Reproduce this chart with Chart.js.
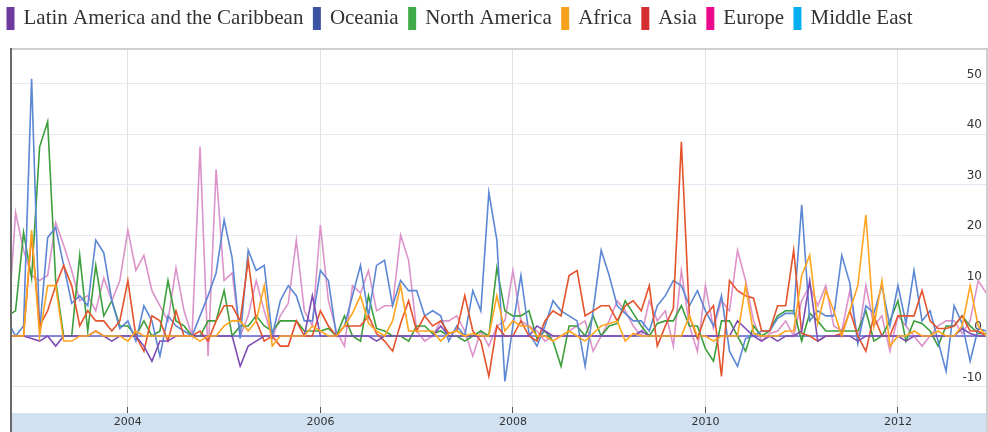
<!DOCTYPE html>
<html>
<head>
<meta charset="utf-8">
<script src="https://cdn.jsdelivr.net/npm/chart.js@4.4.1/dist/chart.umd.min.js"></script>
<style>
  html, body { margin: 0; padding: 0; background: #fff; }
  #wrap { width: 988px; height: 432px; }
</style>
</head>
<body>
<div id="wrap"><canvas id="myChart"></canvas></div>
<script>
// monthly values, Oct 2002 .. Dec 2012 (one row per year)
const regions = ["Latin America and the Caribbean", "Oceania", "North America", "Africa", "Asia", "Europe", "Middle East"];

const latinAmerica = [
  0, 0, 0,
  -0.5, -1, 0, -2, 0, 0, 0, 0, 1, 0, -1, 0,
  0, 0, -2, -5, -1, -1, 0, 0, 0, 0, 0, 0,
  0, 0, -6, -2, -1, 0, 0, 0, 0, 0, 0, 8,
  0, 0, 0, 0, 0, 0, 0, -1, 0, 0, 0, 0,
  0, 0, 0, 2, 0, 0, 0, 0, 0, 0, 0, 0,
  0, 0, 0, 2, 1, 0, 0, 0, 0, 0, 0, 0,
  0, 0, 0, 0, 1, 0, 0, 0, 0, 0, 0, 0,
  0, 0, 0, 0, 3, 1.5, 0, -1, 0, -1, 0, 0,
  1, 11, -1, 0, 0, 0, 0, -1, 0, 0, 0, 0,
  0, -1, 0, 0, 0, 0, 0, 0, 1.5, 0.5, 0, 0
];
const oceania = [
  3, 0, 2,
  51, 1, 19.5, 21.5, 14, 6.5, 8, 6, 19, 16.5, 7, 1.5,
  3, -1, 6, 3, -4, 4, 2, 1, 0, 4, 8, 12.5,
  23, 15.5, -0.5, 17, 13, 14, 0, 7, 10, 8, 3, 3,
  13, 11, 0, 2, 8, 14, 4, 14, 15, 6, 11, 9,
  9, 4, 5, 4, -1, 2, 0, 9, 5, 28.5, 19, -9,
  2, 12, 0.5, -2, 2, 7, 5, 4, 3, -6, 5, 17,
  12, 6, 4.5, 3, 3, 1, 6, 8, 11, 10, 6, 9,
  5, 2, 8, -3, -6, -0.5, 0, 1, 1, 3.5, 4.5, 4.5,
  26, 3, 5, 4, 4, 16, 10.5, -1.5, 6, 4.5, 10, 2,
  10, 2.5, 13, 3, 5, -1, -7, 6, 2.5, -5, 1.5, 1
];
const northAmerica = [
  4, 5, 20.5,
  11.5, 37.5, 42.5, 11, 0, 0, 16, 1, 14, 4, 7, 2,
  2, 0, 3, 0, 1, 11, 3, 2, 0, 0, 3, 3,
  9, 0, 2, 2, 4, 2, 1, 3, 3, 3, 1, 1,
  1, 1.5, 0, 4, 0, -1, 8, 1.5, 1, 0, 0, -1,
  2, 2, 0.5, 1, 0, 0, -1, 0, 1, 0, 13.5, 5,
  4, 4, 5, -0.5, 1, -1, -6, 2, 2, 0, 4, 0,
  2, 2.5, 7, 4.5, 2, 0, 2.5, 3, 3, 6, 2, 2,
  -2.5, -5, 3, 3, 0, -3, 2, 0, 1, 4, 5, 5,
  -1, 4.5, 3, 1, 1, 1, 1, 1, 5, -1, 0, 3,
  7, -1, 3, 2.5, 1, -2, 2, 2, 4, 2, 0.5, 0.5
];
const africa = [
  0, 0, 0,
  21, 0, 10, 10, -1, -1, 0, 0, 1, 0, 0, 0,
  -1, 1, 0, 0, 0, 0, 0, 0, 0, -1, 0, 0,
  2, 3, 3, 1, 3, 10, -2, 0, 0, 0, 0, 2,
  1, 0, 0, 2, 4.5, 8, 2.5, 1, 0, 3, 10, 1,
  1, 1, 1, -1, 0.5, 1, 0, 0.5, 0, 0, 8, 1,
  3, 2, 2, 0, 0, -1, 0, 1, 0, -1, 0.5, 2,
  2.5, 3, -1, 0.5, 0, 0, 0, 0, 0, 0, 4, 0,
  0, -1, 0, 0, 0, 10, 0.5, 0, 0, 0, 1, 1,
  12, 16, 2.5, 9, 5, 0, 5, 10, 24, 2, 11, -2,
  0, 0, 1, 0, 0, 1, 0, 0, 2, 10, 2, 0
];
const asia = [
  0, 0, 0,
  20, 2, 5, 10, 14, 10, 2, 5, 3, 3, 1, 3,
  11, 0, -3, 4, 3, -1, 5, 0, 0, 1, -1, 3,
  6, 6, 3, 15, 3, -1, 0, -2, -2, 3, 0, 0,
  5, 2, 0, 2, 2, 2, 4, 0.5, -1, -3, 2.5, 7,
  1, 4, 2, 3, 0.5, 1, 8, 1, -1, -8, 2, 0,
  0, 3, 0, -1, 3, 5, 4, 12, 13, 4, 5, 6,
  6, 3, 6, 7, 5, 10, -2, 2, 5.5, 38.5, 4, -0.5,
  4, 6, -8, 11, 9, 8, 7.5, 1, 1, 6, 6, 17,
  0.5, 0, -1, 0, 0, 0.5, 5, 0, -3, 4, 0, 0,
  4, 4, 4, 9, 3, 1.5, 1.5, 2, 4, 1, 1, 0
];
const europe = [
  0, 24.5, 17,
  12, 11, 12, 22.5, 18, 13, 7, 8, 5, 11.5, 7, 11,
  21, 13, 16, 9, 6, 3, 13.5, 5, 0, 37.5, -4, 33,
  11, 12.5, 0, 4, 11, 5, -0.5, 4, 6.5, 19, 5, 2,
  22, 7, 1, -2, 10, 8.5, 13, 5, 6, 6, 20, 15,
  1, -1, 0, 3, 3, 4, 1, -4, 1, -2, 2, 3,
  13, 3, 2, 1, -1, 0, 0, 1, 2, 3, -3, 0,
  3, 7, 5, 2, 0, 7, 3, 5, -2, 13, 2, -3,
  10, 1.5, 7, 5, 17, 11, 3, -1, 0.5, 1, 3, 0,
  7, 10, 6, 10, 2, 1, 9, -1, 10, 2, 4, -3,
  4, 2, 0, -2, 0, 2, 3, 3, 0.5, 3, 11, 8.5
];
const middleEast = [
  0, 0, 0,
  0, 0, 0, 0, 0, 0, 0, 0, 0, 0, 0, 0,
  0, 0, 0, 0, 0, 0, 0, 0, 0, 0, 0, 0,
  0, 0, 0, 0, 0, 0, 0, 0, 0, 0, 0, 0,
  0, 0, 0, 0, 0, 0, 0, 0, 0, 0, 0, 0,
  0, 0, 0, 0, 0, 0, 0, 0, 0, 0, 0, 0,
  0, 0, 0, 0, 0, 0, 0, 0, 0, 0, 0, 0,
  0, 0, 0, 0, 0, 0, 0, 0, 0, 0, 0, 0,
  0, 0, 0, 0, 0, 0, 0, 0, 0, 0, 0, 0,
  0, 0, 0, 0, 0, 0, 0, 0, 0, 0, 0, 0,
  0, 0, 0, 0, 0, 0, 0, 0, 0, 0, 0, 0
];

const xTicks = [2004, 2006, 2008, 2010, 2012];
const yTicks = [-10, 0, 10, 20, 30, 40, 50];

const series = [latinAmerica, oceania, northAmerica, africa, asia, europe, middleEast];
const lineColors = ["#7e4db5", "#5b87d4", "#3b9e3b", "#ffa51f", "#e4532b", "#dc93c9", "#5f5fd2"];
const legendColors = ["#6e3a9f", "#3a53a4", "#3fac49", "#f8a11c", "#d62e2f", "#ec0a8c", "#06aeef"];
const drawOrder = [1, 3, 4, 0, 2, 6, 7];

// month categories "2002-10" .. "2012-12"
const months = [];
for (let y = 2002; y <= 2012; y++) {
  for (let m = (y === 2002 ? 10 : 1); m <= 12; m++) months.push(y + "-" + String(m).padStart(2, "0"));
}
const toX = s => { const [y, m] = s.split("-").map(Number); return y + (m - 1) / 12; };

// band under the plot + frame lines
const frame = {
  id: "frame",
  beforeDraw(chart) {
    const { ctx, chartArea: a, width, height } = chart;
    ctx.save();
    ctx.fillStyle = "#d1e1f2";
    ctx.fillRect(a.left, a.bottom + 6, width - a.left, height - a.bottom - 6);
    ctx.restore();
  },
  afterDraw(chart) {
    const { ctx, chartArea: a, width, height } = chart;
    ctx.save();
    ctx.strokeStyle = "#cfcfcf";
    ctx.lineWidth = 2;
    ctx.beginPath();
    ctx.moveTo(a.left, a.top);
    ctx.lineTo(width, a.top);
    ctx.moveTo(width - 1, a.top);
    ctx.lineTo(width - 1, height);
    ctx.stroke();
    ctx.strokeStyle = "#6a6a6a";
    ctx.beginPath();
    ctx.moveTo(a.left, a.top - 1);
    ctx.lineTo(a.left, height);
    ctx.stroke();
    ctx.restore();
  }
};

// push the plot down under the legend
const legendGap = {
  id: "legendGap",
  beforeInit(chart) {
    const fit = chart.legend.fit;
    chart.legend.fit = function () {
      fit.bind(chart.legend)();
      this.height += 10;
    };
  }
};

new Chart(document.getElementById("myChart"), {
  type: "line",
  data: {
    datasets: series.map((vals, i) => ({
      label: regions[i],
      data: vals.map((v, j) => ({ x: toX(months[j]), y: v })),
      borderColor: lineColors[i],
      backgroundColor: legendColors[i],
      borderWidth: 1.6,
      pointRadius: 0,
      tension: 0,
      order: drawOrder[i]
    }))
  },
  options: {
    responsive: true,
    maintainAspectRatio: false,
    animation: false,
    events: [],
    layout: { padding: { top: -3, right: 1, left: -3, bottom: 0 } },
    plugins: {
      tooltip: { enabled: false },
      legend: {
        position: "top",
        align: "start",
        labels: {
          boxWidth: 5,
          boxHeight: 20,
          padding: 11,
          color: "#333",
          font: { family: "'Liberation Serif', 'Times New Roman', serif", size: 21 },
          generateLabels: () => regions.map((r, i) => ({
            text: r,
            fillStyle: legendColors[i],
            strokeStyle: legendColors[i],
            lineWidth: 3,
            fontColor: "#333",
            hidden: false,
            datasetIndex: i
          }))
        }
      }
    },
    scales: {
      x: {
        type: "linear",
        min: 2002.786,
        max: 2012.925,
        afterBuildTicks: s => { s.ticks = xTicks.map(v => ({ value: v })); },
        afterFit: s => { s.height = 25; },
        grid: { color: "#dde4dd", tickColor: "#555", tickLength: 6, drawTicks: true },
        border: { display: false },
        ticks: {
          padding: 3,
          color: "#333",
          maxRotation: 0,
          autoSkip: false,
          font: { family: "'DejaVu Sans', Verdana, sans-serif", size: 11 },
          callback: v => String(v)
        }
      },
      y: {
        position: "right",
        min: -14.07,
        max: 56.9,
        afterBuildTicks: s => { s.ticks = yTicks.map(v => ({ value: v })); },
        afterFit: s => { s.width = 0; },
        grid: { color: "#e7e7f3", drawTicks: false },
        border: { display: false },
        ticks: {
          mirror: true,
          padding: -5,
          labelOffset: -9,
          color: "#333",
          font: { family: "'DejaVu Sans', Verdana, sans-serif", size: 12 }
        }
      },
      yL: {
        position: "left",
        display: true,
        afterFit: s => { s.width = 14; },
        grid: { display: false },
        border: { display: false },
        ticks: { display: false }
      }
    }
  },
  plugins: [frame, legendGap]
});
</script>
</body>
</html>
